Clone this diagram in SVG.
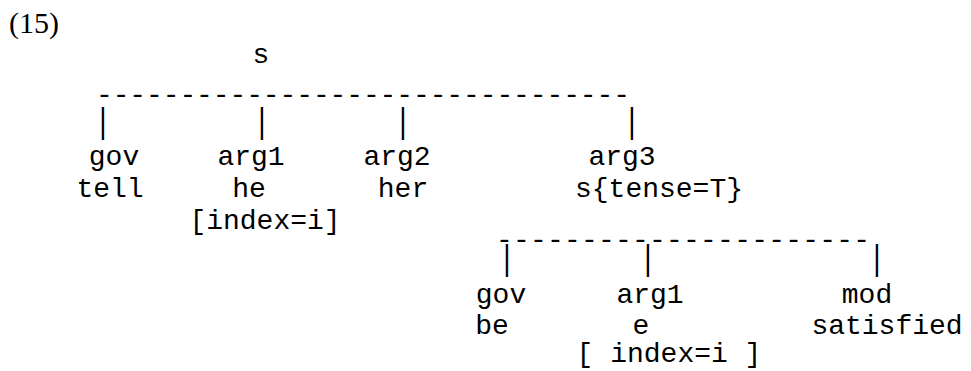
<svg xmlns="http://www.w3.org/2000/svg" width="971" height="371" viewBox="0 0 971 371">
<style>
  .m { font-family: "Liberation Mono", "Courier New", monospace; font-size: 28px; fill: #000; text-anchor: middle; }
  .d { font-family: "Liberation Mono", "Courier New", monospace; font-size: 28px; fill: #000; }
  .num { font-family: "Liberation Serif", "Times New Roman", serif; font-size: 30px; fill: #000; }
</style>
<defs>
  <text id="bar" class="m" x="0" y="7.5">|</text>
</defs>
<rect width="971" height="371" fill="#fff"/>
<text class="num" x="9" y="33">(15)</text>
<g id="connectors">
  <text class="d" x="96" y="103" textLength="534" lengthAdjust="spacing">--------------------------------</text>
  <use href="#bar" transform="translate(103,124) scale(1,1.22)"/>
  <use href="#bar" transform="translate(262,124) scale(1,1.22)"/>
  <use href="#bar" transform="translate(403,124) scale(1,1.22)"/>
  <use href="#bar" transform="translate(632,124) scale(1,1.22)"/>
  <text class="d" x="496" y="248" textLength="374" lengthAdjust="spacing">----------------------</text>
  <use href="#bar" transform="translate(507,261) scale(1,1.22)"/>
  <use href="#bar" transform="translate(648,261) scale(1,1.22)"/>
  <use href="#bar" transform="translate(877,261) scale(1,1.22)"/>
</g>
<g id="node-s"><text class="m" x="261" y="63">s</text></g>
<g id="node-gov-tell">
  <text class="m" x="114" y="165">gov</text>
  <text class="m" x="110" y="197">tell</text>
</g>
<g id="node-arg1-he">
  <text class="m" x="251" y="165">arg1</text>
  <text class="m" x="249" y="197">he</text>
  <text class="m" x="265" y="229">[index=i]</text>
</g>
<g id="node-arg2-her">
  <text class="m" x="397" y="165">arg2</text>
  <text class="m" x="403" y="197">her</text>
</g>
<g id="node-arg3">
  <text class="m" x="622" y="165">arg3</text>
  <text class="m" x="659" y="197">s{tense=T}</text>
</g>
<g id="node-gov-be">
  <text class="m" x="501" y="303">gov</text>
  <text class="m" x="492" y="334">be</text>
</g>
<g id="node-arg1-e">
  <text class="m" x="650" y="303">arg1</text>
  <text class="m" x="641" y="334">e</text>
  <text class="m" x="669" y="362" xml:space="preserve">[ index=i ]</text>
</g>
<g id="node-mod">
  <text class="m" x="867" y="303">mod</text>
  <text class="m" x="887" y="334">satisfied</text>
</g>
</svg>
